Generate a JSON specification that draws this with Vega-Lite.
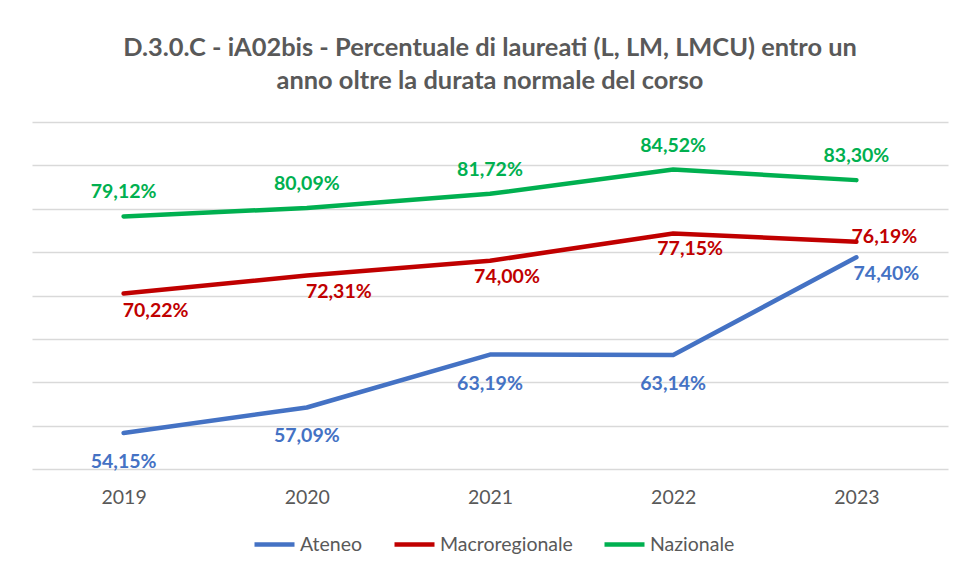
{
  "$schema": "https://vega.github.io/schema/vega-lite/v6.json",
  "autosize": "none",
  "width": 916,
  "height": 347,
  "padding": {"left": 32, "top": 122, "right": 8, "bottom": 98},
  "background": "white",
  "config": {
    "font": "Lato",
    "view": {"stroke": null},
    "locale": {"number": {"decimal": ",", "thousands": ".", "grouping": [3], "currency": ["€", ""]}}
  },
  "title": {
    "text": ["D.3.0.C - iA02bis - Percentuale di laureati (L, LM, LMCU) entro un", "anno oltre la durata normale del corso"],
    "font": "Lato",
    "fontSize": 25.4,
    "fontWeight": "bold",
    "color": "#595959",
    "lineHeight": 33,
    "anchor": "middle",
    "offset": 28
  },
  "data": {
    "values": [
      {"anno": "2019", "serie": "Ateneo", "valore": 0.5415},
      {"anno": "2020", "serie": "Ateneo", "valore": 0.5709},
      {"anno": "2021", "serie": "Ateneo", "valore": 0.6319},
      {"anno": "2022", "serie": "Ateneo", "valore": 0.6314},
      {"anno": "2023", "serie": "Ateneo", "valore": 0.7440},
      {"anno": "2019", "serie": "Macroregionale", "valore": 0.7022},
      {"anno": "2020", "serie": "Macroregionale", "valore": 0.7231},
      {"anno": "2021", "serie": "Macroregionale", "valore": 0.7400},
      {"anno": "2022", "serie": "Macroregionale", "valore": 0.7715},
      {"anno": "2023", "serie": "Macroregionale", "valore": 0.7619},
      {"anno": "2019", "serie": "Nazionale", "valore": 0.7912},
      {"anno": "2020", "serie": "Nazionale", "valore": 0.8009},
      {"anno": "2021", "serie": "Nazionale", "valore": 0.8172},
      {"anno": "2022", "serie": "Nazionale", "valore": 0.8452},
      {"anno": "2023", "serie": "Nazionale", "valore": 0.8330}
    ]
  },
  "encoding": {
    "x": {
      "field": "anno", "type": "ordinal",
      "scale": {"type": "point", "padding": 0.5},
      "axis": {"title": null, "domain": false, "ticks": false, "labelAngle": 0, "labelPadding": 19, "labelFontSize": 19.5, "labelColor": "#595959", "labelFont": "Lato"}
    },
    "y": {
      "field": "valore", "type": "quantitative",
      "scale": {"domain": [0.5, 0.9], "nice": false, "zero": false},
      "axis": {"title": null, "labels": false, "ticks": false, "domain": false, "grid": true, "gridColor": "#d9d9d9", "gridWidth": 1.3, "values": [0.5, 0.55, 0.6, 0.65, 0.7, 0.75, 0.8, 0.85, 0.9]}
    },
    "color": {
      "field": "serie", "type": "nominal",
      "scale": {"domain": ["Ateneo", "Macroregionale", "Nazionale"], "range": ["#4472C4", "#C00000", "#00B050"]},
      "legend": {
        "title": null, "orient": "none", "legendX": 220, "legendY": 400, "direction": "horizontal",
        "symbolType": "stroke", "symbolSize": 1600, "symbolStrokeWidth": 4.5,
        "labelFontSize": 19.5, "labelColor": "#595959", "labelFont": "Lato", "labelOffset": 3, "columnPadding": 22
      }
    }
  },
  "layer": [
    {"mark": {"type": "line", "strokeWidth": 4.5, "strokeCap": "round", "strokeJoin": "round"}},
    {
      "transform": [{"filter": "datum.serie === 'Nazionale'"}],
      "mark": {"type": "text", "fontWeight": "bold", "fontSize": 19.5, "baseline": "middle", "dy": -24},
      "encoding": {"text": {"field": "valore", "type": "quantitative", "format": ".2%"}}
    },
    {
      "transform": [{"filter": "datum.serie === 'Ateneo' && datum.anno !== '2023'"}],
      "mark": {"type": "text", "fontWeight": "bold", "fontSize": 19.5, "baseline": "middle", "dy": 29},
      "encoding": {"text": {"field": "valore", "type": "quantitative", "format": ".2%"}}
    },
    {
      "transform": [{"filter": "datum.serie === 'Ateneo' && datum.anno === '2023'"}],
      "mark": {"type": "text", "fontWeight": "bold", "fontSize": 19.5, "baseline": "middle", "dx": 30, "dy": 17},
      "encoding": {"text": {"field": "valore", "type": "quantitative", "format": ".2%"}}
    },
    {
      "transform": [{"filter": "datum.serie === 'Macroregionale' && (datum.anno === '2019' || datum.anno === '2020')"}],
      "mark": {"type": "text", "fontWeight": "bold", "fontSize": 19.5, "baseline": "middle", "dx": 32, "dy": 17},
      "encoding": {"text": {"field": "valore", "type": "quantitative", "format": ".2%"}}
    },
    {
      "transform": [{"filter": "datum.serie === 'Macroregionale' && (datum.anno === '2021' || datum.anno === '2022')"}],
      "mark": {"type": "text", "fontWeight": "bold", "fontSize": 19.5, "baseline": "middle", "dx": 17, "dy": 16},
      "encoding": {"text": {"field": "valore", "type": "quantitative", "format": ".2%"}}
    },
    {
      "transform": [{"filter": "datum.serie === 'Macroregionale' && datum.anno === '2023'"}],
      "mark": {"type": "text", "fontWeight": "bold", "fontSize": 19.5, "baseline": "middle", "dx": 28, "dy": -5},
      "encoding": {"text": {"field": "valore", "type": "quantitative", "format": ".2%"}}
    }
  ]
}
